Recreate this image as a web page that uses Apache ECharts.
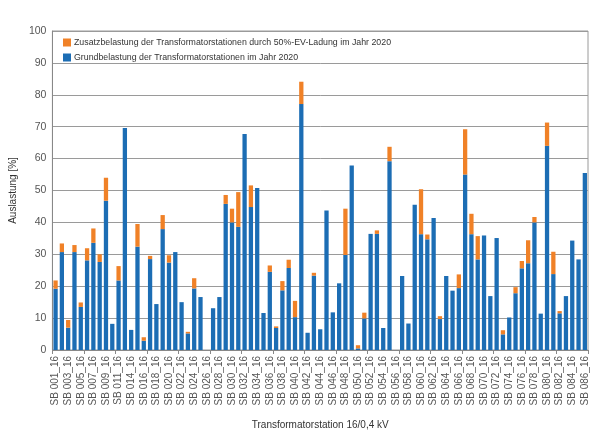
<!DOCTYPE html>
<html>
<head>
<meta charset="utf-8">
<script src="https://cdn.jsdelivr.net/npm/echarts@6/dist/echarts.min.js"></script>
<style>
html,body{margin:0;padding:0;background:#fff;}
#c{width:608px;height:445px;}
</style>
</head>
<body>
<div id="c"></div>
<script>
// Station numbers (bar order)
const stationNumbers = ['001','002','003','004','005','006','007','008','009','010','011','012',
 '014','015','016','017','018','019','020','021','022','023','024','025','026','027','028','029',
 '030','031','032','033','034','035','036','037','038','039','040','041','042','043','044','045',
 '046','047','048','049','050','051','052','053','054','055','056','057','058','059','060','061',
 '062','063','064','065','066','067','068','069','070','071','072','073','074','075','076','077',
 '078','079','080','081','082','083','084','085','086'];
const categories = stationNumbers.map(n => 'SB ' + n + '_16');

// Grundbelastung (blue), %
const baseLoad = [19.2,30.7,7.0,30.7,13.5,28.1,33.6,27.6,46.8,8.2,21.8,69.6,
 6.3,32.4,2.9,28.5,14.4,37.9,27.4,30.7,15.0,5.2,19.3,16.6,null,13.1,16.6,45.8,
 40.0,38.6,67.7,44.8,50.8,11.6,24.5,6.9,18.7,25.7,10.3,77.1,5.4,23.3,6.5,43.7,
 11.8,20.9,29.8,57.8,0.5,9.9,36.4,36.4,6.9,59.2,null,23.2,8.3,45.5,36.3,34.7,
 41.4,9.7,23.2,18.6,19.4,55.0,36.3,28.4,35.9,16.9,35.1,4.9,10.2,17.8,25.6,27.2,
 40.0,11.4,64.0,23.8,11.5,16.9,34.3,28.4,55.5];

// Zusatzbelastung (orange), %
const extraLoad = [2.6,2.7,2.4,2.2,1.4,3.8,4.5,2.4,7.2,0,4.5,0,
 0,7.1,1.1,1.0,0,4.4,2.3,0,0,0.5,3.2,0,null,0,0,2.8,
 4.3,10.9,0,6.8,0,0,2.0,0.5,2.9,2.6,5.1,7.0,0,0.9,0,0,
 0,0,14.5,0,1.0,1.8,0,1.1,0,4.5,null,0,0,0,14.1,1.5,
 0,0.9,0,0,4.3,14.2,6.4,7.3,0,0,0,1.3,0,1.9,2.3,7.2,
 1.7,0,7.3,7.0,0.7,0,0,0,0];

const yTicks = [0,10,20,30,40,50,60,70,80,90,100];

const nameExtra = 'Zusatzbelastung der Transformatorstationen durch 50%-EV-Ladung im Jahr 2020';
const nameBase = 'Grundbelastung der Transformatorstationen im Jahr 2020';

const FONT = '"Liberation Sans", Arial, sans-serif';
const chart = echarts.init(document.getElementById('c'), null, {renderer:'canvas'});
chart.setOption({
  backgroundColor: '#ffffff',
  animation: false,
  textStyle: {fontFamily: FONT},
  grid: {left: 47, right: 20, top: 31, bottom: 95, show: true, borderColor: '#9a9a9a', borderWidth: 1, backgroundColor: '#fff'},
  legend: {
    orient: 'vertical', left: 58, top: 33, itemGap: 6,
    itemWidth: 8, itemHeight: 8, icon: 'rect',
    data: [nameExtra, nameBase],
    textStyle: {fontFamily: FONT, fontSize: 8.8, color: '#333', padding: [0,0,0,-2]}
  },
  xAxis: {
    type: 'category', data: categories,
    name: 'Transformatorstation 16/0,4 kV', nameLocation: 'middle', nameGap: 70,
    nameTextStyle: {fontFamily: FONT, fontSize: 10, color: '#333'},
    axisLine: {show: true, lineStyle: {color: '#888'}},
    axisTick: {show: true, interval: 4, length: 4, lineStyle: {color: '#888'}},
    axisLabel: {interval: 1, rotate: 90, fontFamily: FONT, fontSize: 10, color: '#555', margin: 6}
  },
  yAxis: {
    type: 'value', min: 0, max: 100, interval: 10,
    name: 'Auslastung [%]', nameLocation: 'middle', nameGap: 33,
    nameTextStyle: {fontFamily: FONT, fontSize: 10, color: '#333'},
    axisLine: {show: true, lineStyle: {color: '#888'}},
    axisTick: {show: false},
    axisLabel: {fontFamily: FONT, fontSize: 10.5, color: '#555', margin: 6,
      formatter: v => yTicks.includes(v) ? String(v) : ''},
    splitLine: {lineStyle: {color: '#9a9a9a', width: 1}}
  },
  series: [
    {name: nameBase, type: 'bar', stack: 'a', data: baseLoad, barWidth: '68%',
     itemStyle: {color: '#1c6db4'}},
    {name: nameExtra, type: 'bar', stack: 'a', data: extraLoad, barWidth: '68%',
     itemStyle: {color: '#f08127'}}
  ]
});
</script>
</body>
</html>
